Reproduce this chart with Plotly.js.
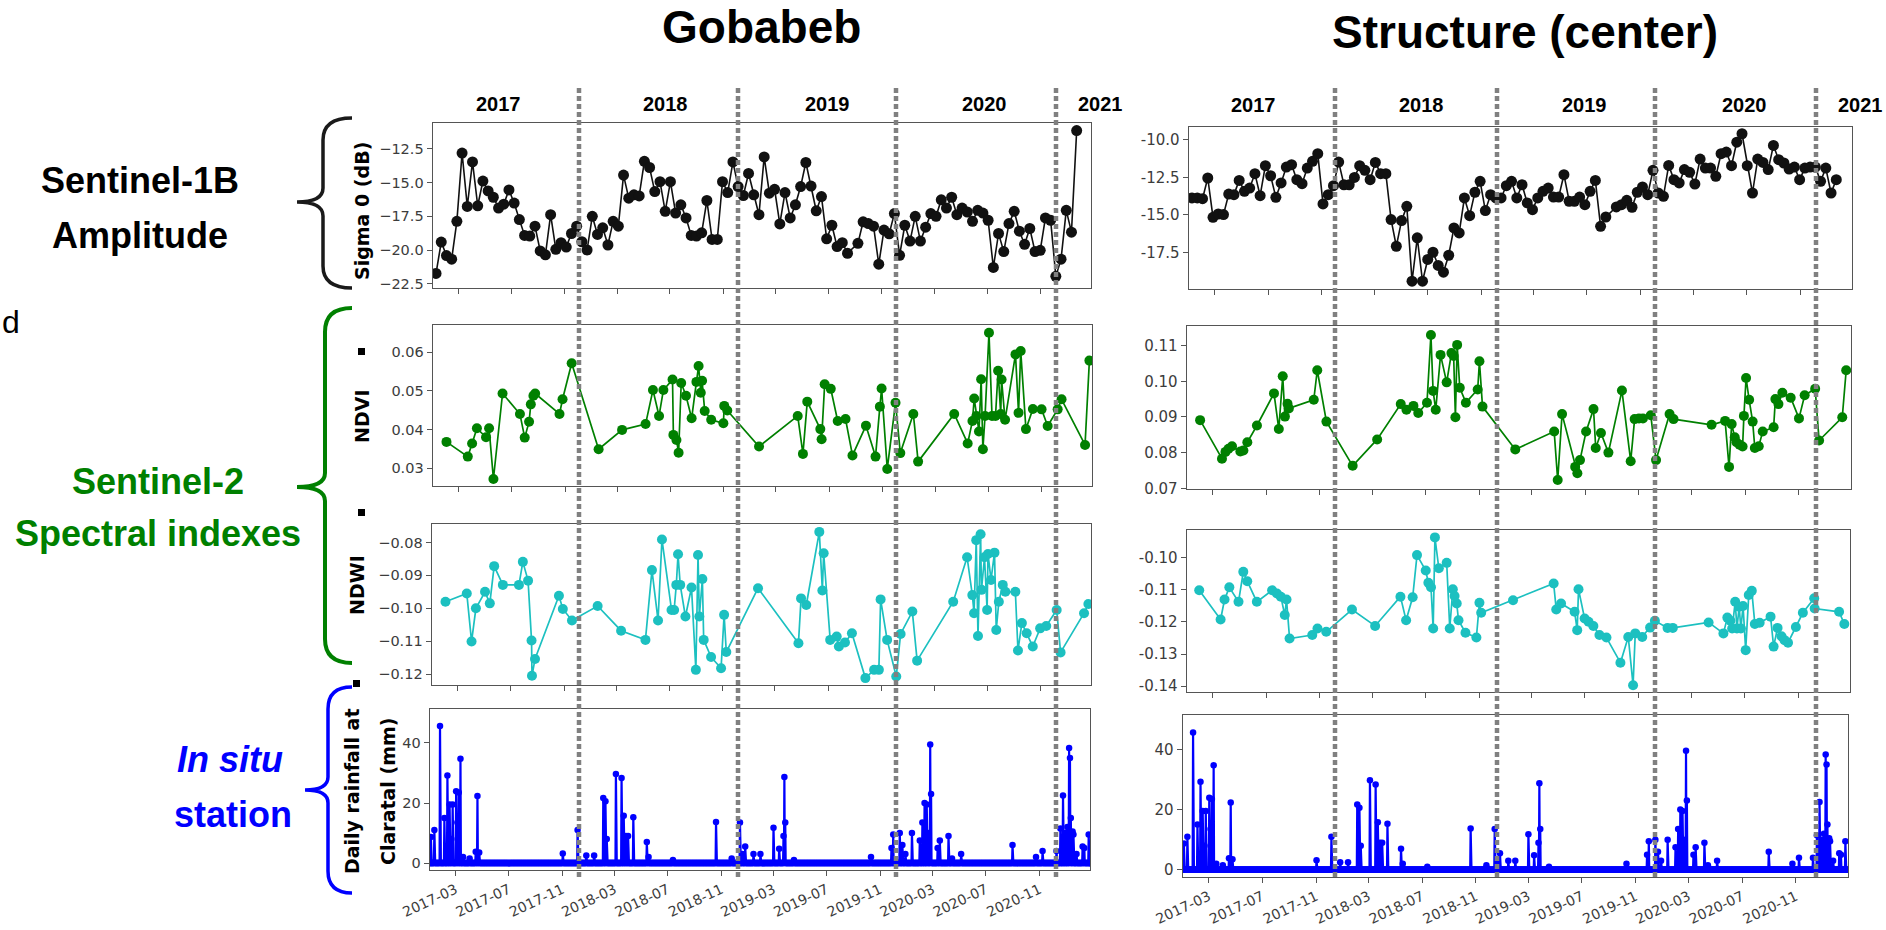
<!DOCTYPE html>
<html>
<head>
<meta charset="utf-8">
<script src="https://cdn.plot.ly/plotly-3.0.1.min.js"></script>
<style>
html,body{margin:0;padding:0;background:#fff;}
#chart{width:1886px;height:930px;}
</style>
</head>
<body>
<div id="chart"></div>
<script>
// ---------------- DATA ----------------
// Sentinel-1B acquisition dates (shared by both sites)
const s1Dates = ['2017-01-08','2017-01-20','2017-02-01','2017-02-13','2017-02-25','2017-03-09','2017-03-21','2017-04-02','2017-04-14','2017-04-26',
'2017-05-08','2017-05-20','2017-06-01','2017-06-13','2017-06-25','2017-07-07','2017-07-19','2017-07-31','2017-08-12','2017-08-24',
'2017-09-05','2017-09-17','2017-09-29','2017-10-11','2017-10-23','2017-11-04','2017-11-16','2017-11-28','2017-12-10','2017-12-22',
'2018-01-03','2018-01-15','2018-01-27','2018-02-08','2018-02-20','2018-03-04','2018-03-16','2018-03-28','2018-04-09','2018-04-21',
'2018-05-03','2018-05-15','2018-05-27','2018-06-08','2018-06-20','2018-07-02','2018-07-14','2018-07-26','2018-08-07','2018-08-19',
'2018-08-31','2018-09-12','2018-09-24','2018-10-06','2018-10-18','2018-10-30','2018-11-11','2018-11-23','2018-12-05','2018-12-17',
'2018-12-29','2019-01-10','2019-01-22','2019-02-03','2019-02-15','2019-02-27','2019-03-11','2019-03-23','2019-04-04','2019-04-16',
'2019-04-28','2019-05-10','2019-05-22','2019-06-03','2019-06-15','2019-06-27','2019-07-09','2019-07-21','2019-08-02','2019-08-14',
'2019-09-07','2019-09-19','2019-10-01','2019-10-13','2019-10-25','2019-11-06','2019-11-18','2019-11-30','2019-12-12','2019-12-24',
'2020-01-05','2020-01-17','2020-01-29','2020-02-10','2020-02-22','2020-03-05','2020-03-17','2020-03-29','2020-04-10','2020-04-22',
'2020-05-04','2020-05-16','2020-05-28','2020-06-09','2020-06-21','2020-07-03','2020-07-15','2020-07-27','2020-08-08','2020-08-20',
'2020-09-01','2020-09-13','2020-09-25','2020-10-07','2020-10-19','2020-10-31','2020-11-12','2020-11-24','2020-12-06','2020-12-18',
'2020-12-30','2021-01-11','2021-01-23'];

const sigmaGobabeb = [-21.72,-19.4,-20.4,-20.67,-17.87,-12.82,-16.77,-13.48,-16.72,-14.89,
-15.62,-16.09,-16.89,-16.6,-15.55,-16.52,-17.74,-18.91,-18.96,-18.23,
-20.06,-20.35,-17.38,-19.94,-19.45,-19.77,-18.77,-18.23,-19.38,-19.99,
-17.5,-18.84,-18.35,-19.62,-17.87,-18.23,-14.45,-16.16,-15.91,-15.99,
-13.43,-13.89,-15.67,-14.94,-17.13,-14.94,-17.26,-16.65,-17.62,-18.91,
-18.96,-18.72,-16.33,-19.21,-19.21,-14.94,-15.74,-13.48,-15.3,-15.96,
-14.33,-15.91,-17.38,-13.11,-15.79,-15.5,-18.06,-15.74,-17.62,-16.65,
-15.3,-13.52,-15.26,-17.09,-16.04,-19.16,-18.16,-19.74,-19.45,-20.23,
-19.5,-17.91,-18.04,-18.23,-21.04,-18.52,-18.79,-17.3,-20.38,-18.16,
-19.33,-17.5,-19.33,-18.3,-17.3,-17.5,-16.28,-16.89,-16.09,-17.38,
-16.89,-17.18,-17.87,-17.06,-17.26,-17.79,-21.28,-18.77,-20.11,-18.04,
-17.13,-18.6,-19.57,-18.4,-20.11,-20.01,-17.62,-17.79,-21.94,-20.67,
-17.06,-18.67,-11.16];

const sigmaStructure = [-13.88,-13.88,-13.93,-12.55,-15.17,-14.95,-14.99,-13.62,-13.66,-12.71,
-13.44,-13.22,-12.26,-13.73,-11.73,-12.4,-13.84,-12.88,-11.82,-11.66,
-12.66,-12.93,-11.89,-11.44,-10.93,-14.28,-13.66,-13.06,-11.49,-13.0,
-13.0,-12.51,-11.73,-12.04,-12.66,-11.51,-12.26,-12.26,-15.32,-17.1,
-15.39,-14.44,-19.43,-16.54,-19.43,-17.98,-17.5,-18.38,-18.83,-17.7,
-15.88,-16.21,-13.88,-15.06,-13.5,-12.77,-14.72,-13.66,-13.88,-13.88,
-13.06,-12.77,-13.88,-13.0,-14.21,-14.66,-13.88,-13.44,-13.22,-13.82,
-13.82,-12.33,-14.1,-14.1,-13.82,-14.33,-13.44,-12.71,-15.77,-15.15,
-14.48,-14.33,-14.04,-14.5,-13.5,-13.15,-13.66,-12.04,-13.55,-13.77,
-11.71,-12.66,-12.88,-11.99,-12.17,-12.95,-11.29,-11.89,-11.89,-12.44,
-10.93,-10.82,-11.73,-10.16,-9.6,-11.73,-13.55,-11.29,-11.51,-11.99,
-10.38,-11.33,-11.55,-11.95,-11.82,-12.66,-11.89,-11.82,-11.82,-12.77,
-11.89,-13.55,-12.66];

// Sentinel-2 NDVI, Gobabeb
const ndviGobabebDates = ['2017-02-01','2017-03-22','2017-04-01','2017-04-12','2017-05-03','2017-05-10','2017-05-20','2017-06-10','2017-07-20','2017-07-31',
'2017-08-10','2017-08-14','2017-08-20','2017-08-24','2017-10-19','2017-10-26','2017-11-16','2018-01-17','2018-03-12','2018-05-05',
'2018-05-22','2018-06-05','2018-06-15','2018-07-06','2018-07-08','2018-07-15','2018-07-20','2018-07-26','2018-08-06','2018-08-19',
'2018-08-30','2018-09-04','2018-09-09','2018-09-12','2018-09-18','2018-10-03','2018-10-31','2018-11-02','2018-11-09','2019-01-21',
'2019-04-20','2019-05-02','2019-05-12','2019-06-11','2019-06-14','2019-06-21','2019-07-05','2019-07-21','2019-08-08','2019-08-24',
'2019-09-24','2019-10-16','2019-10-26','2019-10-30','2019-11-12','2019-12-01','2019-12-12','2020-01-11','2020-01-22','2020-04-14',
'2020-05-15','2020-05-26','2020-05-30','2020-06-04','2020-06-10','2020-06-15','2020-06-19','2020-06-24','2020-07-03','2020-07-10',
'2020-07-18','2020-07-24','2020-07-30','2020-08-01','2020-08-09','2020-09-02','2020-09-09','2020-09-14','2020-09-26','2020-10-12',
'2020-11-01','2020-11-15','2020-12-08','2020-12-17','2021-02-09','2021-02-19'];
const ndviGobabeb = [0.0368,0.033,0.0364,0.0403,0.038,0.0403,0.0272,0.0493,0.044,0.0379,
0.042,0.0465,0.0487,0.0493,0.044,0.0478,0.0571,0.0349,0.0399,0.0414,
0.0502,0.0435,0.0502,0.0529,0.0386,0.0373,0.034,0.052,0.0487,0.0429,
0.0523,0.0564,0.0495,0.0526,0.0448,0.0425,0.0416,0.0461,0.0449,0.0356,
0.0435,0.0337,0.0472,0.0401,0.0375,0.0517,0.0505,0.0422,0.0427,0.0333,
0.041,0.033,0.0459,0.0506,0.0298,0.0469,0.0339,0.044,0.0317,0.044,
0.0364,0.0422,0.048,0.0435,0.0395,0.053,0.0349,0.0435,0.065,0.0435,
0.0435,0.0552,0.044,0.0529,0.0425,0.0594,0.0443,0.0603,0.0401,0.0453,
0.0452,0.0409,0.0452,0.0478,0.036,0.0578];

// Sentinel-2 NDVI, Structure (center)
const ndviStructureDates = ['2017-01-31','2017-03-22','2017-03-30','2017-04-06','2017-04-14','2017-05-03','2017-05-10','2017-05-19','2017-06-10','2017-07-19',
'2017-07-30','2017-08-08','2017-08-13','2017-08-19','2017-08-22','2017-10-18','2017-10-26','2017-11-16','2018-01-15','2018-03-12',
'2018-05-05','2018-05-18','2018-06-03','2018-06-14','2018-07-04','2018-07-13','2018-07-18','2018-07-24','2018-08-04','2018-08-18',
'2018-08-29','2018-09-03','2018-09-07','2018-09-11','2018-09-17','2018-10-01','2018-10-28','2018-11-01','2018-11-08','2019-01-22',
'2019-04-21','2019-04-29','2019-05-09','2019-06-08','2019-06-13','2019-06-19','2019-07-03','2019-07-20','2019-07-25','2019-08-06',
'2019-08-23','2019-09-23','2019-10-13','2019-10-22','2019-11-01','2019-11-10','2019-11-28','2019-12-10','2020-01-10','2020-01-19',
'2020-04-15','2020-05-16','2020-05-25','2020-05-31','2020-06-07','2020-06-11','2020-06-18','2020-06-25','2020-06-28','2020-07-03',
'2020-07-10','2020-07-18','2020-07-23','2020-08-01','2020-08-10','2020-09-04','2020-09-08','2020-09-15','2020-09-24','2020-10-13',
'2020-11-01','2020-11-14','2020-12-08','2020-12-17','2021-02-08','2021-02-17'];
const ndviStructure = [0.0891,0.0783,0.0802,0.0811,0.0818,0.0803,0.0806,0.0829,0.0876,0.0966,
0.0866,0.1014,0.0901,0.0937,0.0924,0.0948,0.1031,0.0887,0.0763,0.0837,
0.0936,0.092,0.0931,0.0911,0.094,0.113,0.0973,0.092,0.1074,0.0997,
0.1079,0.1071,0.0899,0.1102,0.0982,0.094,0.0977,0.1056,0.0929,0.0809,
0.0859,0.0723,0.0908,0.076,0.0742,0.0779,0.0859,0.0922,0.0813,0.0855,
0.08,0.0974,0.0776,0.0894,0.0896,0.0896,0.0905,0.0779,0.0908,0.0894,
0.0878,0.0889,0.076,0.088,0.0843,0.0829,0.0822,0.0817,0.0903,0.1009,
0.0948,0.0887,0.0813,0.0818,0.0859,0.0871,0.095,0.0936,0.0968,0.0954,
0.0896,0.0961,0.0979,0.0834,0.0899,0.1031];

// Sentinel-2 NDWI, Gobabeb
const ndwiGobabebDates = ['2017-02-01','2017-03-22','2017-04-02','2017-04-12','2017-05-03','2017-05-14','2017-05-24','2017-06-13','2017-07-20','2017-07-29',
'2017-08-10','2017-08-18','2017-08-19','2017-08-26','2017-10-20','2017-10-29','2017-11-19','2018-01-17','2018-03-12','2018-05-07',
'2018-05-22','2018-06-05','2018-06-14','2018-07-06','2018-07-12','2018-07-17','2018-07-21','2018-07-26','2018-08-07','2018-08-21',
'2018-08-31','2018-09-05','2018-09-08','2018-09-15','2018-09-18','2018-10-05','2018-10-28','2018-11-04','2018-11-09','2019-01-21',
'2019-04-24','2019-04-30','2019-05-12','2019-06-11','2019-06-18','2019-06-21','2019-07-06','2019-07-21','2019-07-26','2019-08-09',
'2019-08-25','2019-09-25','2019-10-15','2019-10-26','2019-10-30','2019-11-14','2019-12-05','2019-12-15','2020-01-11','2020-01-22',
'2020-04-14','2020-05-16','2020-05-28','2020-06-01','2020-06-06','2020-06-10','2020-06-16','2020-06-18','2020-06-25','2020-07-01',
'2020-07-03','2020-07-10','2020-07-18','2020-07-22','2020-07-28','2020-08-06','2020-08-12','2020-09-04','2020-09-10','2020-09-19',
'2020-09-30','2020-10-14','2020-10-31','2020-11-14','2020-12-08','2020-12-17','2021-02-09','2021-02-19'];
const ndwiGobabeb = [-0.098,-0.0955,-0.1101,-0.1,-0.095,-0.0985,-0.0872,-0.0929,-0.0929,-0.0859,
-0.0916,-0.1098,-0.1205,-0.1154,-0.0962,-0.1002,-0.1037,-0.0993,-0.1068,-0.1096,
-0.0884,-0.1037,-0.0791,-0.1005,-0.1005,-0.0929,-0.0836,-0.0929,-0.1025,-0.0937,
-0.1187,-0.0838,-0.1025,-0.0911,-0.1096,-0.1148,-0.1182,-0.102,-0.1133,-0.0939,
-0.1106,-0.097,-0.099,-0.0768,-0.0946,-0.0833,-0.1096,-0.1086,-0.1116,-0.1104,
-0.1076,-0.1212,-0.1187,-0.1187,-0.0973,-0.1096,-0.1207,-0.1078,-0.101,-0.1159,
-0.098,-0.0845,-0.096,-0.1015,-0.0793,-0.1084,-0.0775,-0.0944,-0.0845,-0.1005,
-0.0835,-0.0914,-0.0831,-0.1066,-0.098,-0.0929,-0.095,-0.095,-0.1128,-0.1045,
-0.1076,-0.1116,-0.1061,-0.1054,-0.1005,-0.1134,-0.1015,-0.0987];

// Sentinel-2 NDWI, Structure (center)
const ndwiStructureDates = ['2017-01-29','2017-03-19','2017-03-28','2017-04-08','2017-04-29','2017-05-10','2017-05-19','2017-06-10','2017-07-15','2017-07-26',
'2017-08-04','2017-08-13','2017-08-17','2017-08-24','2017-10-15','2017-10-27','2017-11-16','2018-01-14','2018-03-08','2018-05-05',
'2018-05-18','2018-06-02','2018-06-12','2018-07-02','2018-07-08','2018-07-14','2018-07-19','2018-07-23','2018-08-01','2018-08-19',
'2018-08-26','2018-09-02','2018-09-06','2018-09-11','2018-09-15','2018-10-01','2018-10-26','2018-11-02','2018-11-06','2019-01-18',
'2019-04-21','2019-04-27','2019-05-08','2019-06-08','2019-06-14','2019-06-17','2019-07-01','2019-07-10','2019-07-21','2019-08-04',
'2019-08-20','2019-09-21','2019-10-09','2019-10-20','2019-10-25','2019-11-10','2019-11-28','2019-12-09','2020-01-07','2020-01-19',
'2020-04-10','2020-05-14','2020-05-23','2020-05-30','2020-06-03','2020-06-10','2020-06-14','2020-06-19','2020-06-23','2020-06-28',
'2020-07-04','2020-07-11','2020-07-18','2020-07-25','2020-08-05','2020-08-30','2020-09-06','2020-09-15','2020-09-24','2020-10-01',
'2020-10-09','2020-10-27','2020-11-12','2020-12-08','2020-12-09','2021-02-03','2021-02-15'];
const ndwiStructure = [-0.1102,-0.1193,-0.1131,-0.1093,-0.1138,-0.1045,-0.1074,-0.1138,-0.1102,-0.1112,
-0.1122,-0.1179,-0.1131,-0.1252,-0.1241,-0.1221,-0.1231,-0.1162,-0.1213,-0.1122,
-0.1195,-0.1124,-0.0993,-0.1041,-0.1079,-0.1093,-0.1221,-0.0938,-0.1034,-0.1017,
-0.1221,-0.1099,-0.112,-0.1143,-0.1195,-0.1234,-0.1249,-0.1141,-0.1172,-0.1133,
-0.1081,-0.1162,-0.1143,-0.1169,-0.1226,-0.1099,-0.119,-0.12,-0.1213,-0.1241,
-0.1249,-0.1327,-0.1247,-0.1397,-0.1236,-0.1247,-0.1218,-0.1197,-0.1219,-0.1219,
-0.1202,-0.1236,-0.1187,-0.1197,-0.1221,-0.1138,-0.1221,-0.1153,-0.1221,-0.1151,
-0.1288,-0.1117,-0.1104,-0.1207,-0.1203,-0.1184,-0.1277,-0.1219,-0.1245,-0.1257,
-0.1265,-0.1216,-0.1172,-0.1127,-0.1159,-0.1169,-0.1207];

// Daily rainfall at Claratal: rainy days (all other days of the record are 0 mm)
const rainStart = '2017-01-01';
const rainEnd = '2021-02-28';
const rainDates = ['2017-01-03','2017-01-11','2017-01-24','2017-02-03','2017-02-10','2017-02-15','2017-02-19','2017-02-22','2017-03-02','2017-03-05',
'2017-03-08','2017-03-12','2017-03-18','2017-04-02','2017-04-16','2017-04-20','2017-04-24','2017-11-02','2017-12-06','2017-12-26',
'2018-01-13','2018-02-03','2018-02-08','2018-02-11','2018-03-04','2018-03-17','2018-03-22','2018-03-27','2018-04-01','2018-04-13',
'2018-05-14','2018-05-18','2018-07-13','2018-10-20','2018-11-25','2018-12-14','2018-12-20','2018-12-26','2019-01-14','2019-01-30',
'2019-03-01','2019-03-14','2019-03-24','2019-03-26','2019-03-28','2019-04-17','2019-10-11','2019-11-27','2019-12-01','2019-12-16',
'2019-12-22','2019-12-29','2020-01-13','2020-01-31','2020-02-06','2020-02-11','2020-02-16','2020-02-19','2020-02-24','2020-02-26',
'2020-03-12','2020-03-17','2020-04-06','2020-04-14','2020-05-05','2020-08-31','2020-10-24','2020-11-08','2020-12-10','2020-12-19',
'2020-12-25','2020-12-30','2021-01-04','2021-01-08','2021-01-10','2021-01-12','2021-01-16','2021-01-18','2021-01-25','2021-02-08',
'2021-02-12','2021-02-22'];
const rainMM = [8.7,11,45.6,15,29.2,19.5,8,19.5,23.9,13.5,
23.5,34.7,2,1.5,3.8,22.3,3.5,3.2,11,2.5,
2.5,21.7,20.6,8,29.7,28.3,15.8,9,9,15.3,
7,2,1,13.7,1.5,13.5,3,5.5,3,3,
11.8,4.8,9,28.7,13.5,1,2,5,9.5,10,
6,3,10,7.5,13.5,20,19.5,10,39.5,23,
5,7.5,9,1.5,3,6,2,4,4,11.5,
22.5,10,12,38.3,35,15,10.5,9.5,3,5.5,
5,9.5];

// Tick values / labels
const xTickStart = '2017-03-01';
const xRangeLeft = ['2017-01-01','2021-02-25'];
const xRangeRight = ['2017-01-01','2021-02-28'];
const sigmaTicksL = [-22.5,-20,-17.5,-15,-12.5];
const sigmaLabelsL = ['\u221222.5','\u221220.0','\u221217.5','\u221215.0','\u221212.5'];
const sigmaTicksR = [-17.5,-15,-12.5,-10];
const sigmaLabelsR = ['-17.5','-15.0','-12.5','-10.0'];
const ndviTicksL = [0.03,0.04,0.05,0.06];
const ndviLabelsL = ['0.03','0.04','0.05','0.06'];
const ndviTicksR = [0.07,0.08,0.09,0.10,0.11];
const ndviLabelsR = ['0.07','0.08','0.09','0.10','0.11'];
const ndwiTicksL = [-0.12,-0.11,-0.10,-0.09,-0.08];
const ndwiLabelsL = ['\u22120.12','\u22120.11','\u22120.10','\u22120.09','\u22120.08'];
const ndwiTicksR = [-0.14,-0.13,-0.12,-0.11,-0.10];
const ndwiLabelsR = ['-0.14','-0.13','-0.12','-0.11','-0.10'];
const rainTicks = [0,20,40];
const rainLabels = ['0','20','40'];
const yearLabels = ['2017','2018','2019','2020','2021'];

// ---------------- BUILD ----------------
const W = 1886, H = 930;
const PX = v => v / W;
const PY = v => 1 - v / H;

// daily rainfall series from rainy-day table
function dailyRain() {
  const map = {};
  rainDates.forEach((d, i) => { map[d] = rainMM[i]; });
  const xs = [], ys = [];
  const t0 = Date.parse(rainStart + 'T00:00:00Z');
  const t1 = Date.parse(rainEnd + 'T00:00:00Z');
  for (let t = t0; t <= t1; t += 86400000) {
    const s = new Date(t).toISOString().slice(0, 10);
    xs.push(s);
    ys.push(map[s] !== undefined ? map[s] : 0);
  }
  return { xs, ys };
}
const rain = dailyRain();

const GREEN = '#008000', CYAN = '#1cc0c0', BLUE = '#0000ff';

function series(x, y, ax, color, msize, lw) {
  return {
    type: 'scatter', mode: 'lines+markers', x: x, y: y,
    xaxis: 'x' + ax, yaxis: 'y' + ax,
    line: { color: color, width: lw },
    marker: { color: color, size: msize },
    hoverinfo: 'skip'
  };
}

const data = [
  series(s1Dates, sigmaGobabeb, '', '#111111', 11, 1.6),
  series(s1Dates, sigmaStructure, '2', '#111111', 11, 1.6),
  series(ndviGobabebDates, ndviGobabeb, '3', GREEN, 10, 1.7),
  series(ndviStructureDates, ndviStructure, '4', GREEN, 10, 1.7),
  series(ndwiGobabebDates, ndwiGobabeb, '5', CYAN, 10, 1.7),
  series(ndwiStructureDates, ndwiStructure, '6', CYAN, 10, 1.7),
  series(rain.xs, rain.ys, '7', BLUE, 6.5, 2.2),
  series(rain.xs, rain.ys, '8', BLUE, 6.5, 2.2)
];

const FRAME = '#555555';
const TICKFONT_L = { family: 'DejaVu Sans', size: 14.5, color: '#3c3c3c' };
const TICKFONT_R = { family: 'DejaVu Sans', size: 15, color: '#3c3c3c' };

function xAxis(pxL, pxR, anchor, range, labels) {
  return {
    domain: [PX(pxL), PX(pxR)], anchor: anchor, type: 'date', range: range,
    showline: true, mirror: true, linecolor: FRAME, linewidth: 1.4,
    ticks: 'outside', ticklen: 5, tickwidth: 1, tickcolor: FRAME,
    tick0: xTickStart, dtick: 'M4', tickformat: '%Y-%m',
    showticklabels: labels, tickangle: -25,
    tickfont: { family: 'DejaVu Sans', size: 14, color: '#3c3c3c' },
    showgrid: false, zeroline: false, fixedrange: true
  };
}
function yAxis(pyTop, pyBot, anchor, range, vals, text, font) {
  return {
    domain: [PY(pyBot), PY(pyTop)], anchor: anchor, range: range,
    showline: true, mirror: true, linecolor: FRAME, linewidth: 1.4,
    ticks: 'outside', ticklen: 5, tickwidth: 1, tickcolor: FRAME,
    tickmode: 'array', tickvals: vals, ticktext: text, tickfont: font,
    showgrid: false, zeroline: false, fixedrange: true
  };
}

const layout = {
  width: W, height: H, autosize: false,
  margin: { l: 0, r: 0, t: 0, b: 0, pad: 0 },
  paper_bgcolor: '#ffffff', plot_bgcolor: '#ffffff',
  showlegend: false,
  xaxis:  xAxis(433, 1091, 'y',  xRangeLeft, false),
  yaxis:  yAxis(123, 288, 'x',  [-22.8, -10.6], sigmaTicksL, sigmaLabelsL, TICKFONT_L),
  xaxis2: xAxis(1189, 1852, 'y2', xRangeRight, false),
  yaxis2: yAxis(127, 289, 'x2', [-19.95, -9.15], sigmaTicksR, sigmaLabelsR, TICKFONT_R),
  xaxis3: xAxis(433, 1092, 'y3', xRangeLeft, false),
  yaxis3: yAxis(325, 486, 'x3', [0.0254, 0.067], ndviTicksL, ndviLabelsL, TICKFONT_L),
  xaxis4: xAxis(1187, 1851, 'y4', xRangeRight, false),
  yaxis4: yAxis(326, 489, 'x4', [0.0698, 0.1155], ndviTicksR, ndviLabelsR, TICKFONT_R),
  xaxis5: xAxis(432, 1091, 'y5', xRangeLeft, false),
  yaxis5: yAxis(524, 685, 'x5', [-0.1233, -0.0744], ndwiTicksL, ndwiLabelsL, TICKFONT_L),
  xaxis6: xAxis(1187, 1850, 'y6', xRangeRight, false),
  yaxis6: yAxis(530, 692, 'x6', [-0.1418, -0.0915], ndwiTicksR, ndwiLabelsR, TICKFONT_R),
  xaxis7: xAxis(430, 1090, 'y7', xRangeLeft, true),
  yaxis7: yAxis(709, 870, 'x7', [-2.3, 51.3], rainTicks, rainLabels, TICKFONT_L),
  xaxis8: xAxis(1183, 1848, 'y8', xRangeRight, true),
  yaxis8: yAxis(715, 877, 'x8', [-2.4, 51.4], rainTicks, rainLabels, TICKFONT_R),
  annotations: [],
  shapes: []
};

function note(text, x, y, size, color, opts) {
  const a = Object.assign({
    text: text, xref: 'paper', yref: 'paper', x: PX(x), y: PY(y),
    xanchor: 'center', yanchor: 'middle', showarrow: false,
    font: { family: 'Liberation Sans, Arial, sans-serif', size: size, color: color }
  }, opts || {});
  layout.annotations.push(a);
}

// Titles
note('<b>Gobabeb</b>', 761, 27, 46, '#000');
note('<b>Structure (center)</b>', 1525, 32, 46, '#000');

// Year labels
const yearXLeft = [498, 665, 827, 984, 1100];
const yearXRight = [1253, 1421, 1584, 1744, 1860];
yearLabels.forEach((t, i) => {
  note('<b>' + t + '</b>', yearXLeft[i], 104, 20, '#000');
  note('<b>' + t + '</b>', yearXRight[i], 105, 20, '#000');
});

// Left side group labels
note('<b>Sentinel-1B</b>', 140, 181, 36, '#000');
note('<b>Amplitude</b>', 140, 235, 36, '#000');
note('<b>Sentinel-2</b>', 158, 481, 36, GREEN);
note('<b>Spectral indexes</b>', 158, 533, 36, GREEN);
note('<b><i>In situ</i></b>', 230, 759, 36, BLUE);
note('<b>station</b>', 233, 814, 36, BLUE);
note('d', 0, 322, 32, '#000', { xanchor: 'left' });

// Y-axis labels (rotated)
function ylab(text, x, y) {
  note('<b>' + text + '</b>', x, y, 19, '#000', { textangle: -90, font: { family: 'DejaVu Sans, sans-serif', size: 19, color: '#000' } });
}
ylab('Sigma 0 (dB)', 362, 211);
ylab('NDVI', 362, 417);
ylab('NDWI', 357, 585);
ylab('Daily rainfall at', 352, 792);
ylab('Claratal (mm)', 388, 792);

// Dotted year separators
const sepLeft = [579, 738, 896, 1056];
const sepRight = [1335, 1497, 1655, 1816];
sepLeft.concat(sepRight).forEach(x => {
  layout.shapes.push({
    type: 'line', xref: 'paper', yref: 'paper',
    x0: PX(x), x1: PX(x), y0: PY(88), y1: PY(880),
    line: { color: '#808080', width: 4.5, dash: '5px,3px' }, layer: 'above'
  });
});

// Curly braces
function bracePath(xe, xs, xt, yt, ym, yb, rE, rT) {
  const p = (x, y) => PX(x).toFixed(5) + ',' + PY(y).toFixed(5);
  return 'M' + p(xe, yt) +
    ' Q' + p(xs, yt) + ' ' + p(xs, yt + rE) +
    ' L' + p(xs, ym - rT) +
    ' Q' + p(xs, ym) + ' ' + p(xt, ym) +
    ' Q' + p(xs, ym) + ' ' + p(xs, ym + rT) +
    ' L' + p(xs, yb - rE) +
    ' Q' + p(xs, yb) + ' ' + p(xe, yb);
}
function brace(path, color, w) {
  layout.shapes.push({ type: 'path', xref: 'paper', yref: 'paper', path: path, line: { color: color, width: w }, fillcolor: 'rgba(0,0,0,0)' });
}
brace(bracePath(352, 323, 297, 118, 202, 288, 22, 14), '#1a1a1a', 3.5);
brace(bracePath(352, 325, 297, 308, 487, 663, 24, 14), GREEN, 4);
brace(bracePath(352, 328, 305, 687, 790, 893, 22, 13), BLUE, 3.5);

// small black square remnants
[[358, 348], [358, 509], [353, 680]].forEach(s => {
  layout.shapes.push({ type: 'rect', xref: 'paper', yref: 'paper',
    x0: PX(s[0]), x1: PX(s[0] + 7), y0: PY(s[1] + 7), y1: PY(s[1]),
    fillcolor: '#000', line: { width: 0 } });
});

Plotly.newPlot('chart', data, layout, { displayModeBar: false, staticPlot: true });
</script>
</body>
</html>
